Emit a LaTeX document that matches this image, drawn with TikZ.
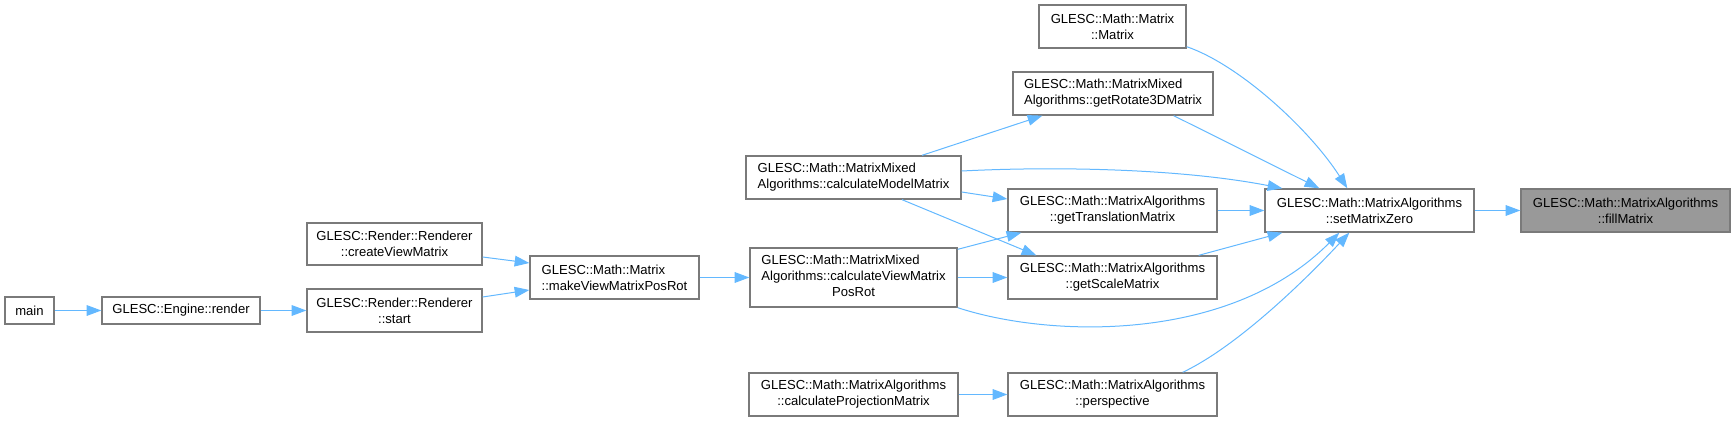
\documentclass[tikz,border=0pt]{standalone}
\usepackage{fontspec}
\setmainfont{Liberation Sans}
\usetikzlibrary{arrows.meta,calc}
\definecolor{edgeblue}{HTML}{63B8FF}
\definecolor{boxborder}{HTML}{7A7A7A}
\definecolor{hlfill}{HTML}{999999}
\tikzset{
  fn/.style={draw=boxborder, line width=1pt, fill=white, inner sep=0pt, text=black,
    font=\fontsize{9.8}{12}\selectfont},
  fnhl/.style={fn, fill=hlfill},
  sz/.style 2 args={minimum width=#1*0.75pt, minimum height=#2*0.75pt},
  call/.style={draw=edgeblue, line width=0.75pt, -{Triangle[length=11pt,width=8pt]}},
}
\begin{document}
\begin{tikzpicture}[x=0.75pt,y=-0.75pt]
\useasboundingbox (0,0) rectangle (1735,421);

\node[fn, sz={49}{27}] (main) at (29.5,310.5) {main};
\node[fn, sz={158}{27}] (render) at (181,310.5) {GLESC::Engine::render};
\node[fn, sz={175}{42}, align=center] (createView) at (394.5,244) {GLESC::Render::Renderer\\::createViewMatrix};
\node[fn, sz={175}{43}, align=center] (start) at (394.5,310.5) {GLESC::Render::Renderer\\::start};
\node[fn, sz={169}{43}, align=left] (makeView) at (614.5,277.5) {GLESC::Math::Matrix\\::makeViewMatrixPosRot};
\node[fn, sz={215}{43}, align=left] (calcModel) at (853.5,177.5) {GLESC::Math::MatrixMixed\\Algorithms::calculateModelMatrix};
\node[fn, sz={207}{59}] (calcView) at (853.5,277.5) {\begin{tabular}{@{}l@{}}GLESC::Math::MatrixMixed\\Algorithms::calculateViewMatrix\\\multicolumn{1}{@{}c@{}}{PosRot}\end{tabular}};
\node[fn, sz={209}{43}, align=center] (calcProj) at (853.5,394.5) {GLESC::Math::MatrixAlgorithms\\::calculateProjectionMatrix};
\node[fn, sz={147}{43}, align=center] (matrixCtor) at (1112.5,26.5) {GLESC::Math::Matrix\\::Matrix};
\node[fn, sz={200}{43}, align=left] (getRotate) at (1113,93.5) {GLESC::Math::MatrixMixed\\Algorithms::getRotate3DMatrix};
\node[fn, sz={209}{43}, align=center] (getTrans) at (1112.5,210.5) {GLESC::Math::MatrixAlgorithms\\::getTranslationMatrix};
\node[fn, sz={209}{43}, align=center] (getScale) at (1112.5,277.5) {GLESC::Math::MatrixAlgorithms\\::getScaleMatrix};
\node[fn, sz={209}{43}, align=center] (persp) at (1112.5,394.5) {GLESC::Math::MatrixAlgorithms\\::perspective};
\node[fn, sz={209}{43}, align=center] (setZero) at (1369.5,210.5) {GLESC::Math::MatrixAlgorithms\\::setMatrixZero};
\node[fnhl, sz={209}{43}, align=center] (fillMatrix) at (1625.5,210.5) {GLESC::Math::MatrixAlgorithms\\::fillMatrix};

\draw[call] (main) -- (render);
\draw[call] (render) -- (start);
\draw[call] ($(createView.east)+(0,13)$) -- ($(makeView.west)+(0,-14.5)$);
\draw[call] ($(start.east)+(0,-13.5)$) -- ($(makeView.west)+(0,12.5)$);
\draw[call] (makeView) -- (calcView);
\draw[call] ($(calcView.north east)+(0,2)$) -- ($(getTrans.south west)+(14,0)$);
\draw[call] (calcView) -- (getScale);
\draw[call] (calcView.south east) .. controls (1050,338) and (1230,343) .. ($(setZero.south west)+(75,0)$);
\draw[call] (calcProj) -- (persp);
\draw[call] ($(persp.north east)+(-35,0)$) .. controls (1240,345) and (1310,275) .. ($(setZero.south west)+(85,0)$);
\draw[call] ($(calcModel.north)+(68.5,0)$) -- ($(getRotate.south west)+(30,0)$);
\draw[call] ($(calcModel.east)+(0,-6.5)$) .. controls (1060,166) and (1183,169) .. ($(setZero.north west)+(18,0)$);
\draw[call] ($(calcModel.east)+(0,14.5)$) -- ($(getTrans.west)+(0,-11.5)$);
\draw[call] ($(calcModel.south)+(48.5,0)$) -- ($(getScale.north west)+(29,0)$);
\draw[call] (getTrans) -- (setZero);
\draw[call] ($(getScale.north east)+(-19,0)$) -- ($(setZero.south west)+(18,0)$);
\draw[call] ($(matrixCtor.south east)+(0,-2)$) .. controls (1240,65) and (1310,130) .. ($(setZero.north west)+(83,0)$);
\draw[call] ($(getRotate.south east)+(-40,0)$) -- ($(setZero.north west)+(55,0)$);
\draw[call] (setZero) -- (fillMatrix);
\end{tikzpicture}
\end{document}
